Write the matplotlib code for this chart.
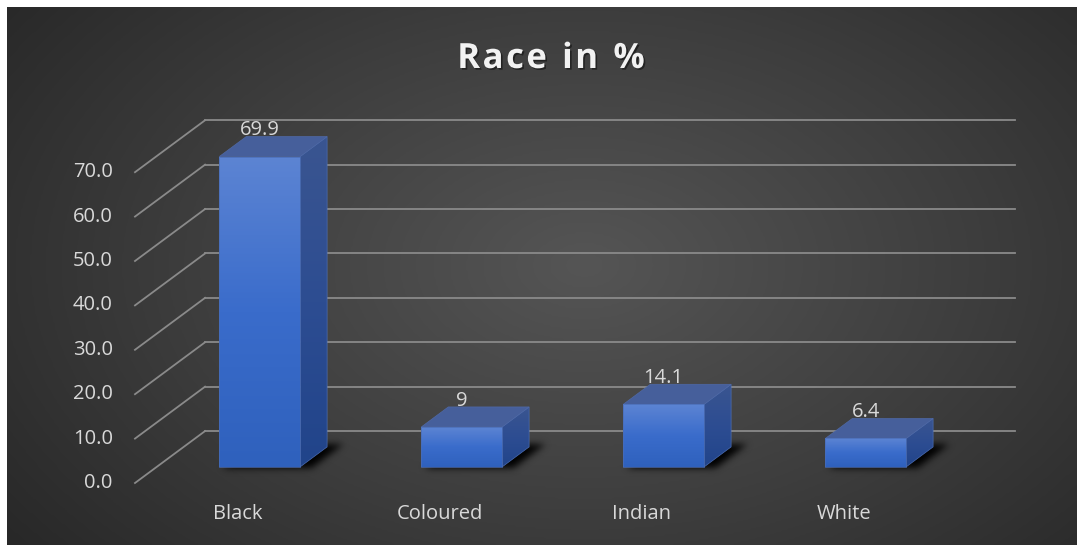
import numpy as np
import matplotlib.pyplot as plt
from matplotlib.patches import Polygon
from matplotlib.path import Path
from matplotlib.colors import LinearSegmentedColormap
from matplotlib import patheffects

# data
categories = ["Black", "Coloured", "Indian", "White"]
values = [69.9, 9, 14.1, 6.4]
value_labels = ["69.9", "9", "14.1", "6.4"]
y_ticks = [0, 10, 20, 30, 40, 50, 60, 70]
title = "Race in %"

plt.rcParams['font.family'] = ['Open Sans', 'DejaVu Sans']
label_size = 14.5

W, H = 1082, 545
fig = plt.figure(figsize=(W / 100, H / 100), dpi=100)
fig.patch.set_facecolor('white')

# dark panel with a soft radial gradient
bg = fig.add_axes([7 / W, 0, (W - 12) / W, (H - 7) / H])
yy, xx = np.mgrid[0:1:300j, 0:1:600j]
r = np.sqrt(((xx - 0.54) / 0.75) ** 2 + ((yy - 0.48) / 0.95) ** 2)
bg_cmap = LinearSegmentedColormap.from_list("bg", ["#555555", "#3d3d3d", "#232323"])
bg.imshow(np.clip(r, 0, 1), cmap=bg_cmap, vmin=0, vmax=1, aspect='auto',
          extent=[0, 1, 0, 1], interpolation='bicubic')
bg.axis('off')

ax = fig.add_axes([0, 0, 1, 1], zorder=1)
ax.patch.set_alpha(0)
ax.set_xlim(-238 / 202, (W - 238) / 202)
ax.set_ylim((483 - H) / 4.44, 483 / 4.44)
ax.axis('off')

# oblique projection: depth d in [0, 1] shifts right and up
DX, DY = 0.347, 11.7
def proj(c, v, d):
    return (c + DX * d, v + DY * d)

wall_left, wall_right = -0.51, 3.5
grid_color = "#8a8a8a"

# back wall gridlines and side wall diagonals
for t in y_ticks:
    x0, y0 = proj(wall_left, t, 1)
    x1, y1 = proj(wall_right, t, 1)
    ax.plot([x0, x1], [y0, y1], color=grid_color, lw=1.3, zorder=1)
    fx, fy = proj(wall_left, t, 0)
    ax.plot([fx, x0], [fy, y0], color=grid_color, lw=1.3, zorder=1)
    ax.text(fx - 0.11, fy, f"{t:.1f}", ha='right', va='center',
            color="#d9d9d9", fontsize=label_size, zorder=5)

bar_w = 0.40
d0, d1 = 0.31, 0.695

front_cmap = LinearSegmentedColormap.from_list("front", ["#2f61bd", "#3a6ccb", "#5c84d3"])
side_cmap = LinearSegmentedColormap.from_list("side", ["#21448a", "#2d4d92", "#3a5590"])
grad = np.linspace(0, 1, 100).reshape(-1, 1)

def face(pts, cmap, z):
    poly = Polygon(pts, closed=True, facecolor='none', edgecolor='#4a6db5',
                   lw=0.5, zorder=z + 0.1)
    ax.add_patch(poly)
    xs = [p[0] for p in pts]
    ys = [p[1] for p in pts]
    im = ax.imshow(grad, cmap=cmap, origin='lower', aspect='auto',
                   extent=[min(xs), max(xs), min(ys), max(ys)], zorder=z,
                   interpolation='bilinear')
    im.set_clip_path(poly)

def blur(a, n):
    k = np.exp(-0.5 * (np.arange(-3 * n, 3 * n + 1) / n) ** 2)
    k /= k.sum()
    a = np.apply_along_axis(lambda m: np.convolve(m, k, mode='same'), 0, a)
    return np.apply_along_axis(lambda m: np.convolve(m, k, mode='same'), 1, a)

def shadow(i):
    # blurred footprint of the bar on the floor, pushed slightly right
    cl, cr = i - bar_w / 2 + 0.02, i + bar_w / 2 + 0.06
    pts = [proj(cl, 0, d0 - 0.02), proj(cr, 0, d0 - 0.02),
           proj(cr, 0, d1 + 0.05), proj(cl, 0, d1 + 0.05)]
    x_lo, x_hi = i - 0.45, i + 0.75
    y_lo, y_hi = -6, 14
    nx, ny = 240, 90
    gx, gy = np.meshgrid(np.linspace(x_lo, x_hi, nx), np.linspace(y_lo, y_hi, ny))
    inside = Path(pts).contains_points(np.c_[gx.ravel(), gy.ravel()]).reshape(ny, nx)
    a = blur(inside.astype(float), 3.5)
    rgba = np.zeros((ny, nx, 4))
    rgba[..., 3] = np.clip(a * 1.0, 0, 1)
    ax.imshow(rgba, origin='lower', aspect='auto', extent=[x_lo, x_hi, y_lo, y_hi],
              zorder=2, interpolation='bilinear')

for i, (cat, v, lab) in enumerate(zip(categories, values, value_labels)):
    cl, cr = i - bar_w / 2, i + bar_w / 2

    shadow(i)

    # side face
    side = [proj(cr, 0, d0), proj(cr, 0, d1), proj(cr, v, d1), proj(cr, v, d0)]
    face(side, side_cmap, 3)
    # top face
    top = [proj(cl, v, d0), proj(cr, v, d0), proj(cr, v, d1), proj(cl, v, d1)]
    ax.add_patch(Polygon(top, closed=True, facecolor='#465f9b', edgecolor='#4f69a6',
                         lw=0.5, zorder=3.5))
    # front face
    front = [proj(cl, 0, d0), proj(cr, 0, d0), proj(cr, v, d0), proj(cl, v, d0)]
    face(front, front_cmap, 4)

    # value label above the bar
    lx, _ = proj(i, v, d0)
    ax.text(lx, v + 9.5, lab, ha='center', va='center', color="#d9d9d9",
            fontsize=label_size, zorder=6)

    # category label on the floor edge
    ax.text(i, -6.9, cat, ha='center', va='center', color="#d9d9d9",
            fontsize=label_size, zorder=6)

# title with a little letter spacing, laid out one glyph at a time
renderer = fig.canvas.get_renderer()
title_kw = dict(color="#f2f2f2", fontsize=25, fontweight='bold', va='baseline', ha='left',
                path_effects=[patheffects.withSimplePatchShadow(offset=(1.2, -1.2),
                                                                 shadow_rgbFace='black',
                                                                 alpha=0.45)])
tracking = 2.5
widths = []
for ch in title:
    t = fig.text(0, 0, ch if ch != " " else "n", **title_kw)
    w = t.get_window_extent(renderer).width
    if ch == " ":
        w *= 0.45
    widths.append(w)
    t.remove()
total = sum(widths) + tracking * (len(title) - 1)
x = 551 - total / 2
for ch, w in zip(title, widths):
    if ch != " ":
        fig.text(x / W, 1 - 68 / H, ch, **title_kw)
    x += w + tracking

fig.savefig("out.png", dpi=100)
